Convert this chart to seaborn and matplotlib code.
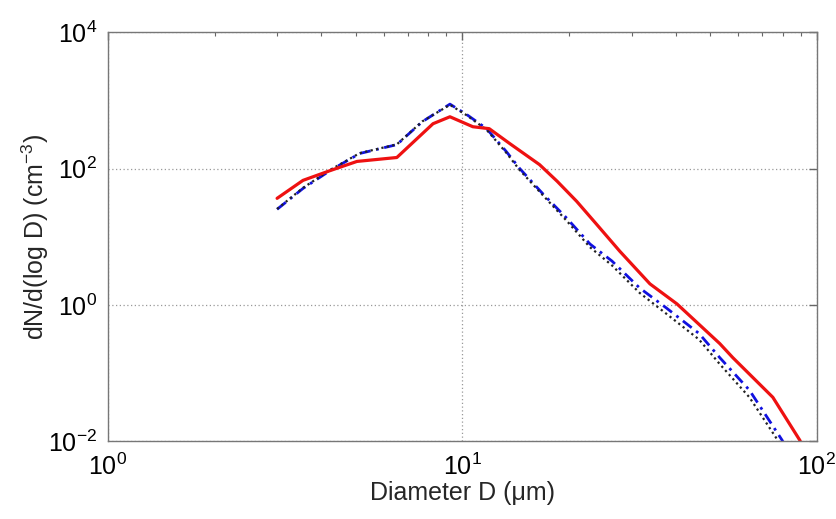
import numpy as np
import pandas as pd
import matplotlib
matplotlib.use('Agg')
import matplotlib.pyplot as plt
from matplotlib.ticker import LogLocator, NullFormatter, NullLocator
import seaborn as sns

# size distributions (diameter in um, dN/dlogD in cm^-3)
d_red = [3.0, 3.55, 4.23, 5.04, 6.53, 8.26, 9.22, 10.7, 11.9, 13.6, 16.5, 18.5,
         21.0, 23.9, 27.8, 33.8, 40.3, 53.2, 57.9, 75.1, 89.5, 95.0]
n_red = [36.5, 67, 93, 127, 145, 454, 574, 410, 384, 232, 114, 65,
         33, 15.2, 6.1, 2.03, 1.03, 0.27, 0.168, 0.044, 0.0103, 0.005]

d_blue = [3.0, 3.55, 4.23, 5.13, 6.53, 7.7, 9.22, 10.3, 11.7, 13.3, 14.5, 16.9,
          19.7, 22.9, 26.4, 31.6, 37.6, 46.5, 53.2, 64.5, 79.8, 85.0]
n_blue = [25.2, 51, 93, 166, 224, 485, 880, 614, 384, 177, 100, 42,
          18.6, 7.8, 4.4, 1.77, 0.90, 0.38, 0.168, 0.056, 0.0103, 0.005]

d_black = [3.0, 3.55, 4.23, 5.13, 6.53, 7.7, 9.22, 10.3, 11.7, 13.3, 14.5, 16.9,
           19.7, 22.9, 26.4, 31.6, 37.6, 46.5, 53.2, 64.5, 79.8, 85.0]
n_black = [25.5, 52, 95, 168, 226, 490, 860, 600, 370, 170, 95, 40,
           17, 7.0, 3.8, 1.5, 0.74, 0.31, 0.135, 0.044, 0.0082, 0.004]

sns.set_style('white')
plt.rcParams['font.family'] = ['Liberation Sans', 'DejaVu Sans']
plt.rcParams['mathtext.fontset'] = 'custom'
plt.rcParams['mathtext.rm'] = 'Liberation Sans'
plt.rcParams['mathtext.it'] = 'Liberation Sans'

fig = plt.figure(figsize=(8.37, 5.19), dpi=100)
ax = fig.add_axes([0.129, 0.150, 0.847, 0.788])

sns.lineplot(x=d_blue, y=n_blue, ax=ax, color='#1010e0', lw=2.0,
             linestyle=(0, (4, 2, 1, 2)), sort=False, estimator=None)
sns.lineplot(x=d_black, y=n_black, ax=ax, color='#222222', lw=1.6,
             linestyle=(0, (1, 1.5)), sort=False, estimator=None)
sns.lineplot(x=d_red, y=n_red, ax=ax, color='#ee1111', lw=2.3,
             sort=False, estimator=None)

ax.set_xscale('log')
ax.set_yscale('log')
ax.set_xlim(1, 100)
ax.set_ylim(1e-2, 1e4)
ax.set_yticks([1e-2, 1e0, 1e2, 1e4])
ax.yaxis.set_minor_locator(NullLocator())
ax.xaxis.set_minor_locator(LogLocator(base=10, subs=np.arange(2, 10)))
ax.xaxis.set_minor_formatter(NullFormatter())

ax.grid(True, which='major', linestyle=(0, (1, 2)), color='#999999', lw=0.9)
ax.tick_params(which='both', direction='in', top=True, right=True,
               labelsize=18, colors='#666666', labelcolor='black')
ax.tick_params(which='major', length=6, width=1)
ax.tick_params(which='minor', length=3, width=0.8)
ax.tick_params(axis='x', which='major', pad=9)
ax.tick_params(axis='y', which='major', pad=8)
for s in ax.spines.values():
    s.set_color('#777777')
    s.set_linewidth(1.0)

ax.set_xlabel('Diameter D (μm)', fontsize=18, labelpad=1)
ax.set_ylabel('dN/d(log D) (cm$^{-3}$)', fontsize=18)
ax.yaxis.set_label_coords(-0.08, 0.5)

fig.savefig('out.png', dpi=100)
